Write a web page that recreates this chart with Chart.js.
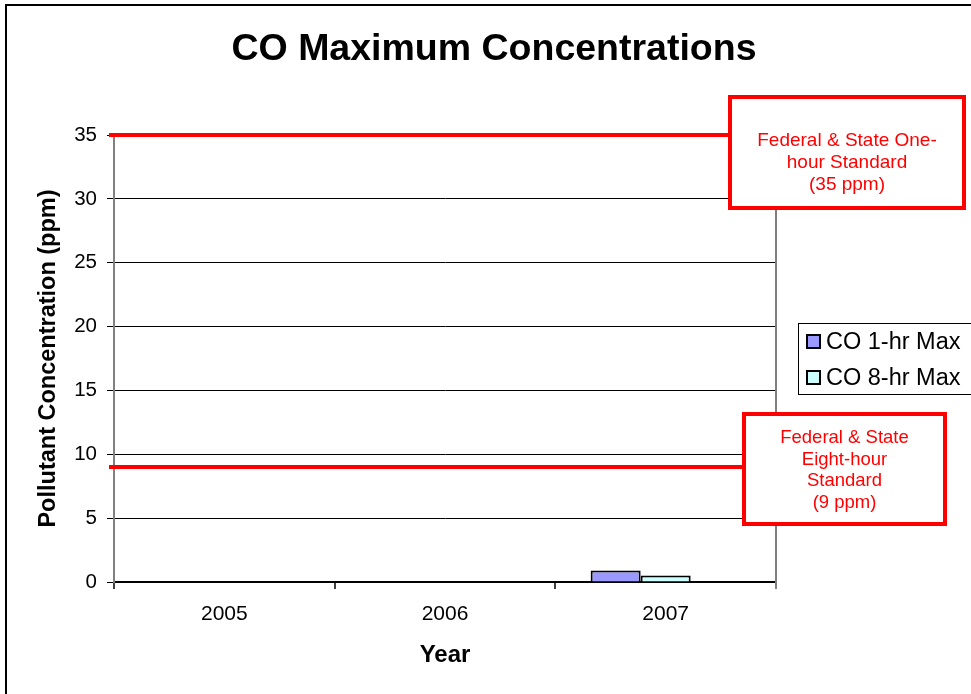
<!DOCTYPE html>
<html>
<head>
<meta charset="utf-8">
<script src="https://cdn.jsdelivr.net/npm/chart.js@4/dist/chart.umd.min.js"></script>
<style>
  html, body { margin: 0; padding: 0; background: #fff; overflow: hidden; }
  #wrap { position: relative; width: 971px; height: 694px; }
  #frame { position: absolute; left: 5px; top: 4px; width: 1000px; height: 800px;
           border-left: 2px solid #000; border-top: 2px solid #000; }
  canvas { position: absolute; left: 0; top: 0; }
</style>
</head>
<body>
<div id="wrap">
  <div id="frame"></div>
  <canvas id="myChart" width="971" height="694"></canvas>
</div>
<script>
'use strict';

const FONT = "'Liberation Sans', Arial, sans-serif";

// chart values
let years = ['2005', '2006', '2007'];
let oneHrMax = [null, null, 0.9];
let eightHrMax = [null, null, 0.5];
let spacer = [null, null, null];
let yTicks = [0, 5, 10, 15, 20, 25, 30, 35];

// air quality standards (ppm)
let oneHourStandard = 35;
let eightHourStandard = 9;
let oneHourText = ['Federal & State One-', 'hour Standard', '(35 ppm)'];
let eightHourText = ['Federal & State', 'Eight-hour', 'Standard', '(9 ppm)'];

function drawStandard(ctx, chart, value, box, lines, lineTop, size) {
  let y = chart.scales.y.getPixelForValue(value);
  ctx.save();
  ctx.strokeStyle = '#ff0000';
  ctx.lineWidth = 4;
  ctx.beginPath();
  ctx.moveTo(chart.chartArea.left - 5, y);
  ctx.lineTo(box.x, y);
  ctx.stroke();

  ctx.fillStyle = '#fff';
  ctx.fillRect(box.x, box.y, box.w, box.h);
  ctx.lineWidth = 4;
  ctx.strokeRect(box.x + 2, box.y + 2, box.w - 4, box.h - 4);

  ctx.fillStyle = '#ff0000';
  ctx.font = size + 'px ' + FONT;
  ctx.textAlign = 'center';
  ctx.textBaseline = 'middle';
  for (let i = 0; i < lines.length; i++) {
    ctx.fillText(lines[i], box.x + box.w / 2, box.y + lineTop + i * 21.7);
  }
  ctx.restore();
}

const extras = {
  id: 'extras',
  beforeDatasetsDraw(chart) {
    let ctx = chart.ctx;
    let a = chart.chartArea;
    // right edge of the plot area
    ctx.save();
    ctx.strokeStyle = '#808080';
    ctx.lineWidth = 2;
    ctx.beginPath();
    ctx.moveTo(a.right, a.top);
    ctx.lineTo(a.right, a.bottom + 7);
    ctx.stroke();
    ctx.restore();
  },
  afterDraw(chart) {
    let ctx = chart.ctx;

    // title
    ctx.save();
    ctx.fillStyle = '#000';
    ctx.font = 'bold 37.5px ' + FONT;
    ctx.textAlign = 'center';
    ctx.textBaseline = 'middle';
    ctx.fillText('CO Maximum Concentrations', 494, 50);
    ctx.restore();

    drawStandard(ctx, chart, oneHourStandard, { x: 728, y: 95, w: 238, h: 115 }, oneHourText, 46, 19);
    drawStandard(ctx, chart, eightHourStandard, { x: 742, y: 412, w: 205, h: 114 }, eightHourText, 26, 18.5);

    // legend
    ctx.save();
    ctx.fillStyle = '#fff';
    ctx.fillRect(798, 323, 200, 71);
    ctx.strokeStyle = '#000';
    ctx.lineWidth = 1;
    ctx.strokeRect(798.5, 323.5, 200, 71);
    let rows = [342, 378];
    for (let i = 0; i < 2; i++) {
      let ds = chart.data.datasets[i];
      ctx.fillStyle = ds.backgroundColor;
      ctx.fillRect(807, rows[i] - 7, 13, 13);
      ctx.lineWidth = 2;
      ctx.strokeStyle = '#000';
      ctx.strokeRect(807, rows[i] - 7, 13, 13);
      ctx.fillStyle = '#000';
      ctx.font = '23.5px ' + FONT;
      ctx.textAlign = 'left';
      ctx.textBaseline = 'middle';
      ctx.fillText(ds.label, 826, rows[i] + 1);
    }
    ctx.restore();
  },
};

const chartData = {
  labels: years,
  datasets: [
    {
      label: 'CO 1-hr Max',
      data: oneHrMax,
      backgroundColor: '#9999ff',
      borderColor: '#000',
      borderWidth: 2,
    },
    {
      label: 'CO 8-hr Max',
      data: eightHrMax,
      backgroundColor: '#ccffff',
      borderColor: '#000',
      borderWidth: 2,
    },
    {
      label: '',
      data: spacer,
      backgroundColor: '#fff',
    },
  ],
};

const config = {
  type: 'bar',
  data: chartData,
  plugins: [extras],
  options: {
    responsive: false,
    animation: false,
    events: [],
    layout: {
      padding: { top: 135, right: 195, bottom: 0, left: 0 },
    },
    datasets: {
      bar: {
        categoryPercentage: 0.68,
        barPercentage: 1.0,
      },
    },
    plugins: {
      legend: { display: false },
      title: { display: false },
      tooltip: { enabled: false },
    },
    scales: {
      x: {
        offset: true,
        afterFit(scale) { scale.height = 112; },
        grid: {
          offset: true,
          drawOnChartArea: false,
          drawTicks: true,
          tickLength: 7,
          color: '#404040',
          lineWidth: 2,
        },
        border: { display: true, color: '#000', width: 2 },
        ticks: {
          color: '#000',
          font: { family: FONT, size: 21 },
          padding: 13,
        },
        title: {
          display: true,
          text: 'Year',
          color: '#000',
          font: { family: FONT, size: 24, weight: 'bold' },
          padding: { top: 0, bottom: 24 },
        },
      },
      y: {
        min: 0,
        max: 35,
        afterFit(scale) { scale.width = 114; },
        afterBuildTicks(scale) {
          scale.ticks = yTicks.map(v => ({ value: v }));
        },
        grid: {
          color: '#000',
          lineWidth: 1,
          tickLength: 7,
        },
        border: { display: true, color: '#808080', width: 2 },
        ticks: {
          color: '#000',
          font: { family: FONT, size: 20.5 },
          padding: 10,
        },
        title: {
          display: true,
          text: 'Pollutant Concentration (ppm)',
          color: '#000',
          font: { family: FONT, size: 23.5, weight: 'bold' },
          padding: { top: 34, bottom: 0 },
        },
      },
    },
  },
};

let chartCanvas = document.getElementById('myChart').getContext('2d');
const myChart = new Chart(chartCanvas, config);
</script>
</body>
</html>
